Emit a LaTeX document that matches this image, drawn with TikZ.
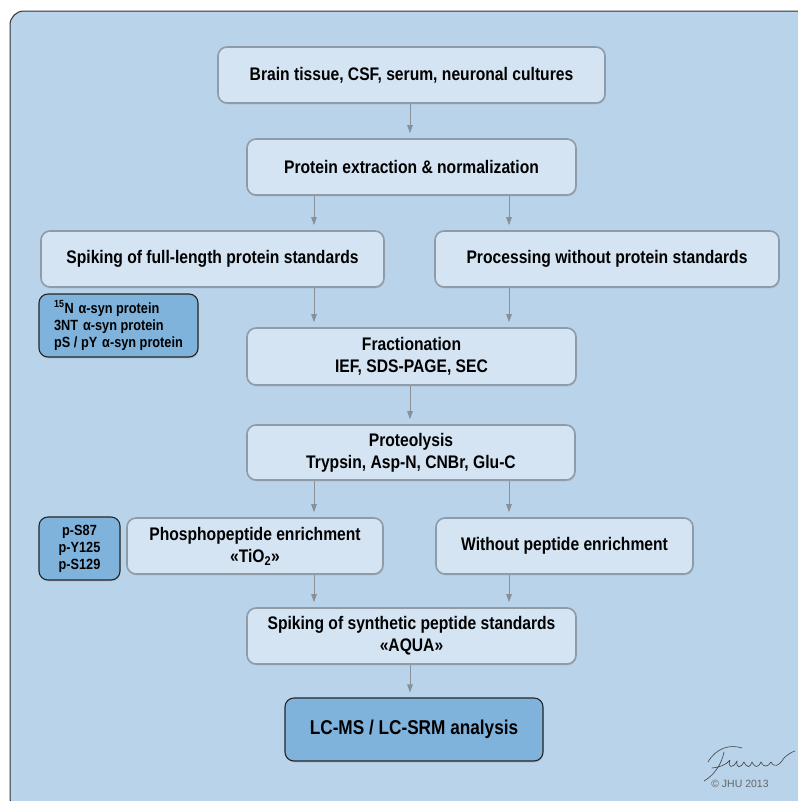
\documentclass[tikz,border=0pt]{standalone}
\usepackage{fontspec}
\setmainfont{Liberation Sans}[FakeStretch=0.86]
\newfontfamily\sigfont{Liberation Sans}
\usetikzlibrary{arrows.meta,shadows}
\definecolor{bgblue}{HTML}{B8D3EA}
\definecolor{boxfill}{HTML}{D4E4F3}
\definecolor{boxedge}{HTML}{8F9BA7}
\definecolor{darkfill}{HTML}{80B3DC}
\definecolor{arrowgrey}{HTML}{8A9098}
\tikzset{
  lightbox/.style={rectangle, rounded corners=9pt, draw=boxedge, line width=1.6pt, fill=boxfill,
    drop shadow={shadow xshift=0.6pt, shadow yshift=-1.4pt, opacity=0.25},
    font=\bfseries\fontsize{18.2}{22}\selectfont, align=center, inner sep=0pt},
  darkbox/.style={rectangle, rounded corners=9pt, draw=black!85, line width=1.1pt, fill=darkfill,
    drop shadow={shadow xshift=0.6pt, shadow yshift=-1.4pt, opacity=0.3},
    inner sep=0pt},
  smalltext/.style={font=\bfseries\fontsize{14.8}{17}\selectfont},
  arr/.style={draw=arrowgrey, line width=0.9pt, -{Triangle[width=5.5pt,length=8pt]}, shorten >=5pt}
}
\begin{document}
\begin{tikzpicture}[x=1pt,y=-1pt]
\useasboundingbox (0,0) rectangle (798,801);
\begin{scope}
\clip (0,0) rectangle (798,801);
\draw[fill=bgblue, draw=black!80, line width=1pt, rounded corners=14pt] (10,11) rectangle (812,812);
\end{scope}
% main boxes
\node[lightbox, minimum width=387pt, minimum height=56pt] (b1) at (411.5,75) {Brain tissue, CSF, serum, neuronal cultures};
\node[lightbox, minimum width=329pt, minimum height=56pt] (b2) at (411.5,167) {Protein extraction \& normalization};
\node[lightbox, minimum width=343pt, minimum height=56pt] (b3) at (212.5,259) {Spiking of full-length protein standards};
\node[lightbox, minimum width=344pt, minimum height=56pt] (b4) at (607,259) {Processing without protein standards};
\node[darkbox, smalltext, minimum width=159pt, minimum height=63pt, align=left] (sa) at (118.5,325.5)
  {\textsuperscript{15}N\,\,α-syn protein\\3NT\,\,α-syn protein\\pS / pY\,\,α-syn protein};
\node[lightbox, minimum width=329pt, minimum height=57pt] (b5) at (411.5,356.5) {Fractionation\\IEF, SDS-PAGE, SEC};
\node[lightbox, minimum width=328pt, minimum height=55pt] (b6) at (411,452.5) {Proteolysis\\Trypsin, Asp-N, CNBr, Glu-C};
\node[darkbox, smalltext, minimum width=81pt, minimum height=63pt, align=center] (sb) at (79.5,548.5)
  {p-S87\\p-Y125\\p-S129};
\node[lightbox, minimum width=256pt, minimum height=56pt] (b7) at (255,546) {Phosphopeptide enrichment\\«TiO\textsubscript{2}»};
\node[lightbox, minimum width=257pt, minimum height=56pt] (b8) at (564.5,546) {Without peptide enrichment};
\node[lightbox, minimum width=329pt, minimum height=56pt] (b9) at (411.5,636) {Spiking of synthetic peptide standards\\«AQUA»};
\node[darkbox, minimum width=258pt, minimum height=63pt, font=\bfseries\fontsize{20}{24}\selectfont] (b10) at (414,729.5) {LC-MS / LC-SRM analysis};
% arrow columns
\coordinate (cc) at (410,0);
\coordinate (cl) at (314,0);
\coordinate (cr) at (509,0);
\draw[arr] (b1.south -| cc) -- (b2.north -| cc);
\draw[arr] (b2.south -| cl) -- (b3.north -| cl);
\draw[arr] (b2.south -| cr) -- (b4.north -| cr);
\draw[arr] (b3.south -| cl) -- (b5.north -| cl);
\draw[arr] (b4.south -| cr) -- (b5.north -| cr);
\draw[arr] (b5.south -| cc) -- (b6.north -| cc);
\draw[arr] (b6.south -| cl) -- (b7.north -| cl);
\draw[arr] (b6.south -| cr) -- (b8.north -| cr);
\draw[arr] (b7.south -| cl) -- (b9.north -| cl);
\draw[arr] (b8.south -| cr) -- (b9.north -| cr);
\draw[arr] (b9.south -| cc) -- (b10.north -| cc);
% signature
\draw[black!75, line width=0.6pt, line cap=round, line join=round]
  (708,762) .. controls (716,748) and (730,744) .. (742,748)
  (724,752) .. controls (722,762) and (716,774) .. (704,781)
  (712,768) .. controls (720,767) and (726,765) .. (730,760)
  (730,760) .. controls (727,768) and (733,769) .. (737,761)
  (737,761) .. controls (736,768) and (740,769) .. (744,762)
  (744,762) .. controls (747,768) and (750,768) .. (752,762)
  (752,762) .. controls (755,768) and (758,768) .. (761,762)
  (761,762) .. controls (764,768) and (768,767) .. (771,762)
  (771,762) .. controls (774,768) and (779,766) .. (784,758)
  (784,758) .. controls (788,754) and (792,752) .. (795,751);
\node[font=\sigfont\fontsize{10.5}{12}\selectfont, text=black!60, inner sep=0pt] (copy) at (740,784) {© JHU 2013};
\end{tikzpicture}
\end{document}
